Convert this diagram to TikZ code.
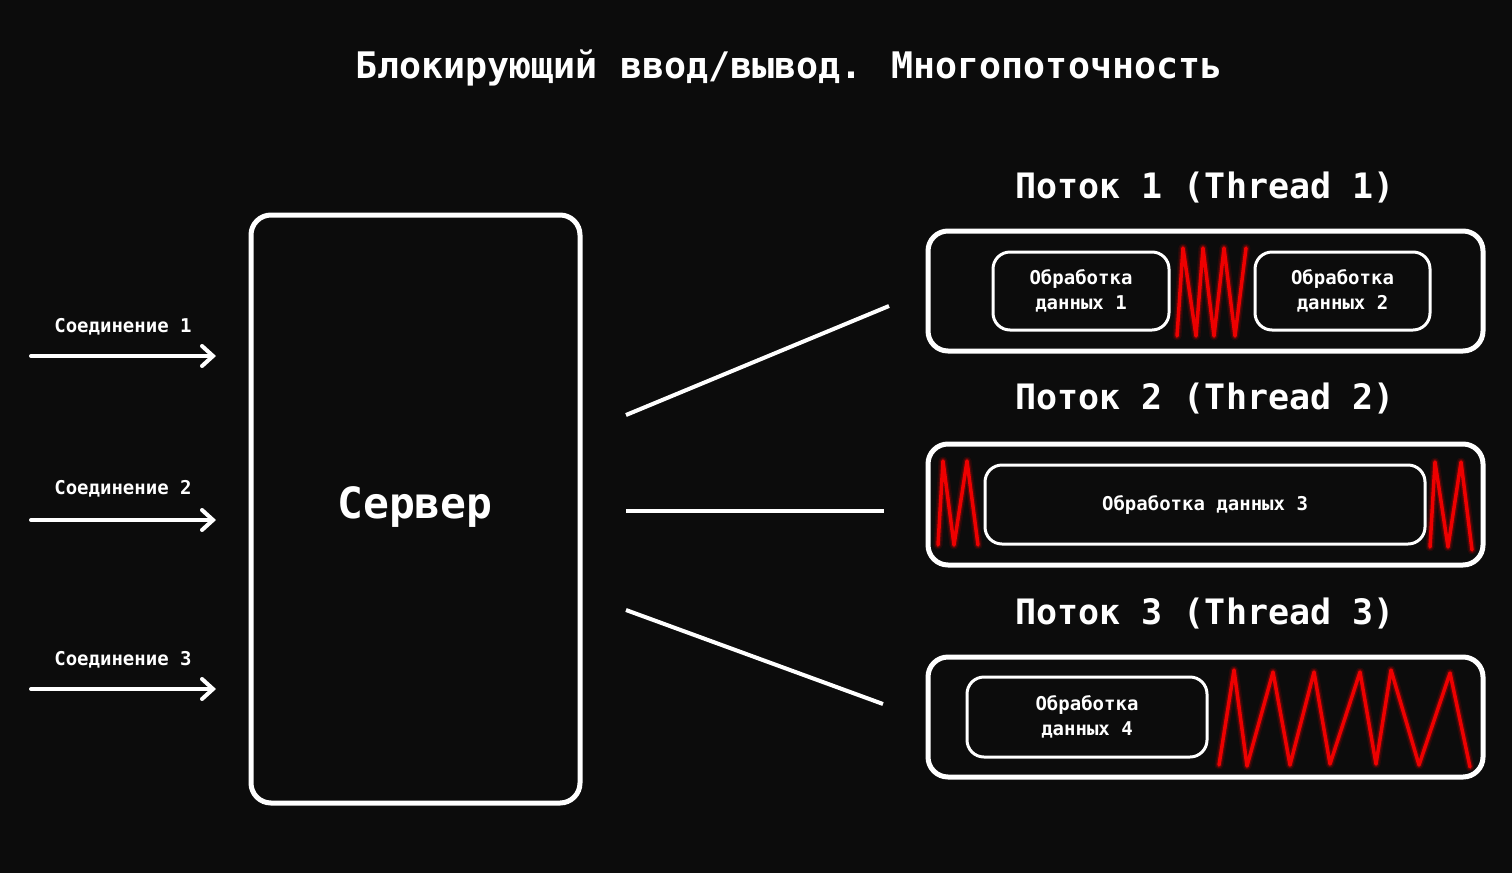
\documentclass[tikz,border=0pt]{standalone}
\usepackage{fontspec}
\setmainfont{DejaVu Sans Mono}
\usetikzlibrary{arrows.meta}
\definecolor{bg}{HTML}{0C0C0C}
\definecolor{zz}{HTML}{EE0000}
\begin{document}
\begin{tikzpicture}[x=1pt,y=-1pt,
  every node/.style={text=white, font=\bfseries},
  bigbox/.style={draw=white, line width=5pt, rounded corners=20pt, fill=bg, inner sep=0pt},
  subbox/.style={draw=white, line width=3pt, rounded corners=17pt, fill=bg, inner sep=0pt, align=center,
                 font=\bfseries\fontsize{19}{25}\selectfont},
  conn/.style={draw=white, line width=4pt},
  inarrow/.style={draw=white, line width=4pt, line cap=round, -{Straight Barb[length=11pt,width=20pt,line cap=round]}},
  lbl/.style={font=\bfseries\fontsize{19}{22}\selectfont},
  thr/.style={font=\bfseries\fontsize{35}{40}\selectfont},
  glowA/.style={draw=zz, line width=9pt, opacity=0.12, line join=round, line cap=round},
  glowB/.style={draw=zz, line width=6pt, opacity=0.25, line join=round, line cap=round},
  zig/.style={draw=zz, line width=3.5pt, line join=round, line cap=round}
]
\fill[bg] (0,0) rectangle (1512,873);
\useasboundingbox (0,0) rectangle (1512,873);

% title
\node[font=\bfseries\fontsize{36.6}{40}\selectfont] (title) at (789,68) {Блокирующий ввод/вывод. Многопоточность};

% server
\node[bigbox, minimum width=329pt, minimum height=588pt] (server) at (415.5,509) {};
\node[font=\bfseries\fontsize{43}{48}\selectfont] (servertxt) at (415,507) {Сервер};

% incoming connections
\node[lbl] (l1) at (123,327) {Соединение 1};
\node[lbl] (l2) at (123,489) {Соединение 2};
\node[lbl] (l3) at (123,660) {Соединение 3};
\coordinate (a1s) at (31,356); \coordinate (a1e) at (216,356);
\coordinate (a2s) at (31,520); \coordinate (a2e) at (216,520);
\coordinate (a3s) at (31,689); \coordinate (a3e) at (216,689);
\draw[inarrow] (a1s) -- (a1e);
\draw[inarrow] (a2s) -- (a2e);
\draw[inarrow] (a3s) -- (a3e);

% thread labels
\node[thr] (th1) at (1205,188) {Поток 1 (Thread 1)};
\node[thr] (th2) at (1205,399) {Поток 2 (Thread 2)};
\node[thr] (th3) at (1205,614) {Поток 3 (Thread 3)};

% thread boxes
\node[bigbox, minimum width=555pt, minimum height=120pt] (t1) at (1205.5,291) {};
\node[bigbox, minimum width=555pt, minimum height=121pt] (t2) at (1205.5,504.5) {};
\node[bigbox, minimum width=555pt, minimum height=120pt] (t3) at (1205.5,717) {};

% connectors server -> threads
\coordinate (c1s) at (626,415); \coordinate (c1e) at (889,306);
\coordinate (c2s) at (626,511); \coordinate (c2e) at (884,511);
\coordinate (c3s) at (626,610); \coordinate (c3e) at (883,704);
\draw[conn] (c1s) -- (c1e);
\draw[conn] (c2s) -- (c2e);
\draw[conn] (c3s) -- (c3e);

% processing boxes
\node[subbox, minimum width=176pt, minimum height=78pt] (p1) at (1081,291) {Обработка\\данных 1};
\node[subbox, minimum width=175pt, minimum height=78pt] (p2) at (1342.5,291) {Обработка\\данных 2};
\node[subbox, minimum width=440pt, minimum height=79pt] (p3) at (1205,504.5) {Обработка данных 3};
\node[subbox, minimum width=240pt, minimum height=80pt] (p4) at (1087,717) {Обработка\\данных 4};

% zigzags (blocking waits)
\def\zigA{(1177,336) -- (1183,248) -- (1196,336) -- (1203,248) -- (1214,336) -- (1224,248) -- (1235,336) -- (1246,248)}
\def\zigB{(938,545) -- (943,461) -- (954,545) -- (967,461) -- (978,545)}
\def\zigC{(1430,547) -- (1435,462) -- (1448,547) -- (1461,462) -- (1472,550)}
\def\zigD{(1219,765) -- (1234,670) -- (1247,766) -- (1273,672) -- (1290,765) -- (1314,672) -- (1330,764) -- (1360,672) -- (1376,764) -- (1391,670) -- (1419,765) -- (1450,673) -- (1470,767)}
\foreach \z in {\zigA,\zigB,\zigC,\zigD}{
  \draw[glowA] \z;
  \draw[glowB] \z;
  \draw[zig] \z;
}
\end{tikzpicture}
\end{document}
